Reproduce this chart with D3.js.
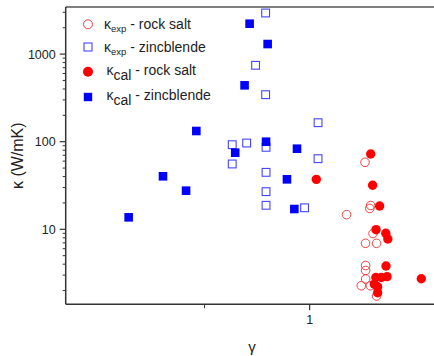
<!DOCTYPE html>
<html>
<head>
<meta charset="utf-8">
<script src="https://cdn.jsdelivr.net/npm/d3@7"></script>
<style>
  html, body { margin: 0; padding: 0; background: #fff; }
  svg { display: block; }
  text { font-family: "Liberation Sans", Arial, sans-serif; fill: #222; }
</style>
</head>
<body>
<svg id="chart" width="434" height="356"></svg>
<script>
// ---- data (γ, κ in W/mK) ----
const zbCalGamma = [0.673, 0.758, 0.651, 0.4735, 0.750, 0.612, 0.920, 0.380, 0.861, 0.4425, 0.904, 0.303];
const zbCalKappa = [2223, 1303, 440, 132.5, 100, 74.9, 83.2, 40.3, 37.2, 27.6, 17.05, 13.7];

const zbExpGamma = [0.748, 0.700, 0.748, 1.057, 0.600, 0.660, 0.750, 1.057, 0.600, 0.750, 0.750, 0.750, 0.967];
const zbExpKappa = [2946, 745, 344, 164.8, 92.4, 96.6, 86.3, 64.0, 55.7, 44.7, 26.9, 18.8, 17.6];

const rsCalGamma = [1.496, 1.515, 1.587, 1.045, 1.550, 1.653, 1.675, 1.655, 1.548, 1.666, 2.089, 1.566, 1.566, 1.605, 1.532];
const rsCalKappa = [72.4, 31.8, 18.45, 37.2, 9.9, 9.0, 7.75, 3.81, 2.82, 2.88, 2.73, 2.21, 1.89, 2.82, 2.37];

const rsExpGamma = [1.441, 1.496, 1.487, 1.276, 1.519, 1.446, 1.555, 1.447, 1.447, 1.447, 1.406, 1.493, 1.555];
const rsExpKappa = [58.2, 18.7, 17.3, 14.7, 8.95, 6.92, 6.92, 3.86, 3.39, 2.71, 2.27, 2.27, 1.73];

const xMajorTicks = [1];
const xTickLabels = ["1"];
const xMinorTicks = [0.5];
const yMajorTicks = [10, 100, 1000];
const yTickLabels = ["10", "100", "1000"];

const legendItems = [
  { sub: "exp", text: " - rock salt", kind: "openCircle" },
  { sub: "exp", text: " - zincblende", kind: "openSquare" },
  { sub: "cal", text: " - rock salt", kind: "filledCircle" },
  { sub: "cal", text: " - zincblende", kind: "filledSquare" }
];

// ---- layout ----
const plotLeft = 65.7, plotTop = 7, plotBottom = 304.3;
const svg = d3.select("#chart");

const x = d3.scaleLog().domain([0.2, 2.5]).range([plotLeft, plotLeft + 349 * Math.log10(2.5 / 0.2)]);
const y = d3.scaleLog().domain([1.393, 3449]).range([plotBottom, plotTop]);

const RED = "#ff0000", BLUE = "#0000ff";

// frame (top line; right side extends beyond view)
svg.append("line").attr("x1", plotLeft).attr("x2", 440).attr("y1", plotTop).attr("y2", plotTop)
  .attr("stroke", "#555").attr("stroke-width", 1.5);

// y minor ticks
const yMinor = [];
for (let e = 0; e <= 3; e++) for (let k = 2; k <= 9; k++) {
  const v = k * Math.pow(10, e);
  if (v > y.domain()[0] && v < y.domain()[1]) yMinor.push(v);
}
svg.append("g").selectAll("line").data(yMinor).join("line")
  .attr("x1", plotLeft - 3).attr("x2", plotLeft).attr("y1", d => y(d)).attr("y2", d => y(d))
  .attr("stroke", "#333").attr("stroke-width", 1);

// y major ticks + labels
svg.append("g").selectAll("line").data(yMajorTicks).join("line")
  .attr("x1", plotLeft - 6).attr("x2", plotLeft).attr("y1", d => y(d)).attr("y2", d => y(d))
  .attr("stroke", "#333").attr("stroke-width", 1.2);
svg.append("g").selectAll("text").data(yMajorTicks).join("text")
  .attr("x", plotLeft - 10).attr("y", d => y(d) + 4.5)
  .attr("text-anchor", "end").attr("font-size", 12.5)
  .text((d, i) => yTickLabels[i]);

// x ticks
svg.append("g").selectAll("line").data(xMinorTicks).join("line")
  .attr("x1", d => x(d)).attr("x2", d => x(d)).attr("y1", plotBottom).attr("y2", plotBottom + 4)
  .attr("stroke", "#333").attr("stroke-width", 1);
svg.append("g").selectAll("line").data(xMajorTicks).join("line")
  .attr("x1", d => x(d)).attr("x2", d => x(d)).attr("y1", plotBottom).attr("y2", plotBottom + 6)
  .attr("stroke", "#333").attr("stroke-width", 1.2);
svg.append("g").selectAll("text").data(xMajorTicks).join("text")
  .attr("x", d => x(d)).attr("y", plotBottom + 20)
  .attr("text-anchor", "middle").attr("font-size", 12.5)
  .text((d, i) => xTickLabels[i]);

// axis lines
svg.append("line").attr("x1", plotLeft).attr("x2", plotLeft).attr("y1", plotTop).attr("y2", plotBottom)
  .attr("stroke", "#333").attr("stroke-width", 1.5);
svg.append("line").attr("x1", plotLeft).attr("x2", 440).attr("y1", plotBottom).attr("y2", plotBottom)
  .attr("stroke", "#333").attr("stroke-width", 1.5);

// axis titles
svg.append("text").attr("transform", "translate(23,155.7) rotate(-90)")
  .attr("text-anchor", "middle").attr("font-size", 16).text("κ (W/mK)");
svg.append("text").attr("x", 252).attr("y", 352)
  .attr("text-anchor", "middle").attr("font-size", 15).text("γ");

// ---- marks ----
const pts = (g, k) => g.map((v, i) => ({ g: v, k: k[i] }));
const plot = svg.append("g");

plot.append("g").selectAll("rect").data(pts(zbExpGamma, zbExpKappa)).join("rect")
  .attr("x", d => x(d.g) - 3.9).attr("y", d => y(d.k) - 3.9)
  .attr("width", 7.8).attr("height", 7.8)
  .attr("fill", "none").attr("stroke", "#4444ff").attr("stroke-width", 1.1);

plot.append("g").selectAll("circle").data(pts(rsExpGamma, rsExpKappa)).join("circle")
  .attr("cx", d => x(d.g)).attr("cy", d => y(d.k)).attr("r", 4.3)
  .attr("fill", "none").attr("stroke", "#ee4444").attr("stroke-width", 1);

plot.append("g").selectAll("rect").data(pts(zbCalGamma, zbCalKappa)).join("rect")
  .attr("x", d => x(d.g) - 4.3).attr("y", d => y(d.k) - 4.3)
  .attr("width", 8.6).attr("height", 8.6).attr("fill", BLUE);

plot.append("g").selectAll("circle").data(pts(rsCalGamma, rsCalKappa)).join("circle")
  .attr("cx", d => x(d.g)).attr("cy", d => y(d.k)).attr("r", 4.7).attr("fill", RED);

// ---- legend ----
const legY = [24.3, 47, 71.7, 97];
const legX = 88;
const leg = svg.append("g");
legendItems.forEach((it, i) => {
  const cy = legY[i];
  if (it.kind === "openCircle") {
    leg.append("circle").attr("cx", legX).attr("cy", cy).attr("r", 4.5)
      .attr("fill", "none").attr("stroke", "#ee4444").attr("stroke-width", 1);
  } else if (it.kind === "openSquare") {
    leg.append("rect").attr("x", legX - 4).attr("y", cy - 4).attr("width", 8).attr("height", 8)
      .attr("fill", "none").attr("stroke", "#4444ff").attr("stroke-width", 1.1);
  } else if (it.kind === "filledCircle") {
    leg.append("circle").attr("cx", legX).attr("cy", cy).attr("r", 5).attr("fill", RED);
  } else {
    leg.append("rect").attr("x", legX - 4.2).attr("y", cy - 4.2).attr("width", 8.4).attr("height", 8.4).attr("fill", BLUE);
  }
  const isCal = it.sub === "cal";
  const t = leg.append("text").attr("x", isCal ? 106.5 : 104).attr("y", cy + (isCal ? 3 : 5)).attr("font-size", 14);
  t.append("tspan").text("κ");
  if (isCal) {
    t.append("tspan").attr("font-size", 14).attr("dy", 5).text(it.sub);
    t.append("tspan").attr("dy", -5).text(it.text);
  } else {
    t.append("tspan").attr("font-size", 9.5).attr("dy", 3).text(it.sub);
    t.append("tspan").attr("dy", -3).text(it.text);
  }
});
</script>
</body>
</html>
